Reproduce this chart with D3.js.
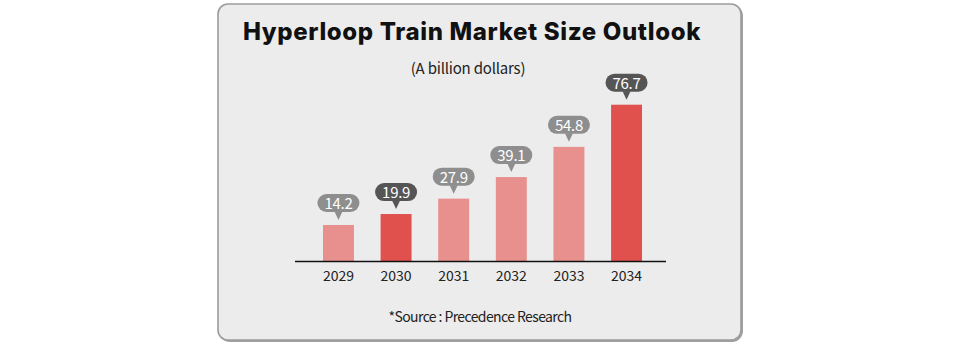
<!DOCTYPE html>
<html>
<head>
<meta charset="utf-8">
<script src="https://cdn.jsdelivr.net/npm/d3@7"></script>
<style>
  html, body { margin: 0; padding: 0; background: #ffffff; }
  svg { display: block; }
</style>
</head>
<body>
<svg id="chart" width="960" height="344"></svg>
<script>
const years = ["2029", "2030", "2031", "2032", "2033", "2034"];
const values = [14.2, 19.9, 27.9, 39.1, 54.8, 76.7];
const highlighted = ["2030", "2034"];
const titleText = "Hyperloop Train Market Size Outlook";
const unitText = "(A billion dollars)";
const sourceText = "*Source : Precedence Research";

const svg = d3.select("#chart");
const fontMain = "'Noto Sans CJK KR', 'Noto Sans', sans-serif";
const fontTitle = "Inter, 'Noto Sans CJK KR', sans-serif";

// Panel
svg.append("rect")
  .attr("x", 219).attr("y", 5).attr("width", 524).attr("height", 337)
  .attr("rx", 11).attr("fill", "#a0a0a0");
svg.append("rect")
  .attr("x", 218).attr("y", 4).attr("width", 523).attr("height", 336)
  .attr("rx", 10).attr("fill", "#ececec").attr("stroke", "#9c9c9c").attr("stroke-width", 1.6);

// Title
svg.append("text")
  .attr("x", 472).attr("y", 39.5).attr("text-anchor", "middle")
  .attr("font-family", fontTitle).attr("font-weight", 800).attr("font-size", 24)
  .attr("letter-spacing", 0.65)
  .attr("fill", "#111").text(titleText);
svg.append("text")
  .attr("x", 468).attr("y", 74).attr("text-anchor", "middle")
  .attr("font-family", fontMain).attr("font-size", 15)
  .attr("letter-spacing", -0.2)
  .attr("fill", "#222").text(unitText);

// Scales
const x = d3.scaleBand()
  .domain(years)
  .range([309.65, 655.35])
  .paddingInner(0.463)
  .paddingOuter(0.2315);
const y = d3.scaleLinear()
  .domain([-4.5, 76.7])
  .range([261, 104.7]);

const data = years.map((yr, i) => ({ year: yr, value: values[i], hi: highlighted.includes(yr) }));

// Bars
svg.append("g").selectAll("rect")
  .data(data).join("rect")
  .attr("x", d => x(d.year))
  .attr("width", x.bandwidth())
  .attr("y", d => y(d.value))
  .attr("height", d => y(-4.5) - y(d.value))
  .attr("fill", d => d.hi ? "#e0514e" : "#e8908e");

// Axis
const axis = svg.append("g").attr("transform", "translate(0,261.5)")
  .call(d3.axisBottom(x).tickSize(0).tickPadding(10));
axis.select(".domain").remove();
axis.selectAll("text")
  .attr("font-family", fontMain).attr("font-size", 14)
  .attr("fill", "#222");
svg.append("line")
  .attr("x1", 295).attr("x2", 666).attr("y1", 261.5).attr("y2", 261.5)
  .attr("stroke", "#111").attr("stroke-width", 1.5);

// Callouts
const bubbleW = 42, bubbleH = 18;
const callouts = svg.append("g").selectAll("g")
  .data(data).join("g")
  .attr("transform", d => `translate(${x(d.year) + x.bandwidth() / 2},${y(d.value) - 13})`);
callouts.append("rect")
  .attr("x", -bubbleW / 2).attr("y", -bubbleH).attr("width", bubbleW).attr("height", bubbleH)
  .attr("rx", 9)
  .attr("fill", d => d.hi ? "#555555" : "#8e8e8e");
callouts.append("path")
  .attr("d", "M-4,-0.5 L4,-0.5 L0,8 Z")
  .attr("fill", d => d.hi ? "#555555" : "#8e8e8e");
callouts.append("text")
  .attr("y", -3).attr("text-anchor", "middle")
  .attr("font-family", fontMain).attr("font-size", 15)
  .attr("letter-spacing", -0.3)
  .attr("fill", "#fff").text(d => d.value.toFixed(1));

// Source
svg.append("text")
  .attr("x", 480).attr("y", 322).attr("text-anchor", "middle")
  .attr("font-family", fontMain).attr("font-size", 14)
  .attr("letter-spacing", -0.6)
  .attr("fill", "#222").text(sourceText);
</script>
</body>
</html>
